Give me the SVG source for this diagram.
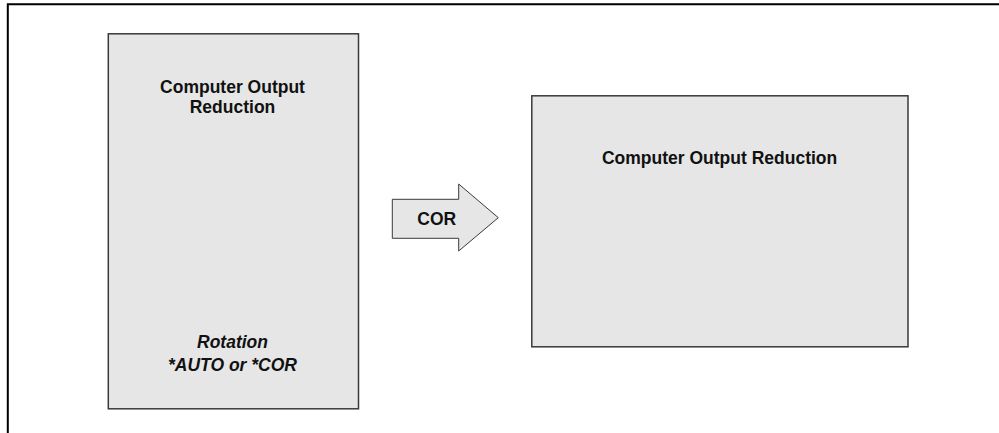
<svg xmlns="http://www.w3.org/2000/svg" width="999" height="433" viewBox="0 0 999 433">
<style>
.box{fill:#e6e6e6;stroke:#3a3a3a;stroke-width:1.5}
.t{font-family:"Liberation Sans",Arial,sans-serif;font-weight:bold;font-size:17.5px;fill:#111;text-anchor:middle}
.i{font-style:italic}
</style>
<rect x="0" y="0" width="999" height="433" fill="#fff"/>
<path d="M7.8 433 V4.2 H999" fill="none" stroke="#000" stroke-width="2"/>
<g id="left-box">
<rect class="box" x="108.3" y="33.8" width="250.2" height="375"/>
<text class="t" x="232.5" y="92.5">Computer Output</text>
<text class="t" x="232.5" y="113.2">Reduction</text>
<text class="t i" x="232.5" y="348.3">Rotation</text>
<text class="t i" x="232.5" y="370.7">*AUTO or *COR</text>
</g>
<g id="connectors">
<g id="cor-arrow">
<polygon points="392.3,199.3 458.7,199.3 458.7,184 498.3,217.7 458.7,251 458.7,238.3 392.3,238.3" fill="#e6e6e6" stroke="#3a3a3a" stroke-width="1"/>
<text class="t" x="436.7" y="225">COR</text>
</g>
</g>
<g id="right-box">
<rect class="box" x="531.8" y="95.8" width="376.2" height="251"/>
<text class="t" x="719.6" y="164">Computer Output Reduction</text>
</g>
</svg>
